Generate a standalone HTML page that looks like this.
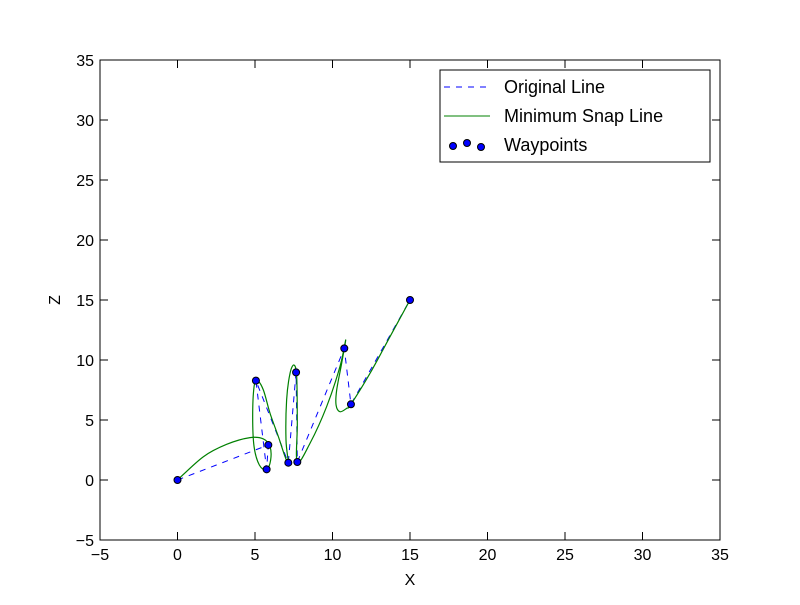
<!DOCTYPE html>
<html><head><meta charset="utf-8"><style>
body{margin:0;background:#fff}
svg text{font-family:"Liberation Sans","DejaVu Sans",sans-serif}
</style></head><body>
<svg id="chart" width="800" height="600" viewBox="0 0 800 600" xmlns="http://www.w3.org/2000/svg">
<rect width="800" height="600" fill="#fff"/>
<g id="ticks"></g>
<g id="series"></g>
<rect x="100" y="60" width="620" height="480" fill="none" stroke="#000" stroke-width="1"/>
<text x="410" y="585" font-size="16" text-anchor="middle">X</text>
<text x="60" y="300" font-size="16" text-anchor="middle" transform="rotate(-90 60 300)">Z</text>
<g>
<rect x="440" y="70" width="270" height="92" fill="#fff" stroke="#000"/>
<g>
<line x1="444" y1="87" x2="490" y2="87" stroke="#0000ff" stroke-dasharray="6,6"/>
<text x="504" y="93" font-size="18">Original Line</text></g>
<g>
<line x1="444" y1="116" x2="490" y2="116" stroke="#008000"/>
<text x="504" y="122" font-size="18">Minimum Snap Line</text></g>
<g>
<circle cx="453" cy="146" r="3.5" fill="#0000ff" stroke="#000"/>
<circle cx="467" cy="143" r="3.5" fill="#0000ff" stroke="#000"/>
<circle cx="481" cy="147" r="3.5" fill="#0000ff" stroke="#000"/>
<text x="504" y="151" font-size="18">Waypoints</text></g>
</g>
</svg>
<script>
const xTicks=[-5,0,5,10,15,20,25,30,35];
const yTicks=[-5,0,5,10,15,20,25,30,35];
const wpX=[0,5.86,5.75,5.06,7.15,7.65,7.73,10.76,11.19,15];
const wpY=[0,2.92,0.89,8.28,1.44,8.97,1.5,10.97,6.31,15];
const snapX=[0,1.67,3.17,4.68,5.54,5.97,6.01,5.75,5.28,4.94,4.85,4.94,5.15,5.54,5.97,6.51,6.94,7.15,7.0,7.04,7.26,7.52,7.69,7.73,7.73,8.55,9.62,10.48,10.85,10.59,10.27,10.23,10.48,10.91,11.19,12.42,13.71,15];
const snapY=[0,1.94,2.97,3.53,3.42,2.78,1.67,0.83,1.25,2.78,5.28,7.78,8.28,7.5,5.56,3.61,1.94,1.44,3.33,6.67,8.89,9.58,8.61,4.72,1.5,3.06,6.11,9.44,11.67,9.72,7.5,6.25,5.69,5.97,6.31,8.89,11.94,15];
const X=v=>100+(v+5)*15.5, Y=v=>540-(v+5)*12;
const NS="http://www.w3.org/2000/svg";
const mk=(t,a)=>{const e=document.createElementNS(NS,t);for(const k in a)e.setAttribute(k,a[k]);return e;};
const tk=document.getElementById('ticks'), se=document.getElementById('series');
xTicks.forEach(v=>{const x=X(v);
 const t=mk('line',{x1:x,x2:x,y1:540,y2:532,stroke:'#000'});tk.appendChild(t);
 const t2=mk('line',{x1:x,x2:x,y1:60,y2:68,stroke:'#000'});tk.appendChild(t2);
 const l=mk('text',{x:x,y:560,'font-size':16,'text-anchor':'middle'});l.textContent=v<0?'\u2212'+(-v):v;tk.appendChild(l);});
yTicks.forEach(v=>{const y=Y(v);
 const t=mk('line',{x1:100,x2:108,y1:y,y2:y,stroke:'#000'});tk.appendChild(t);
 const t2=mk('line',{x1:720,x2:712,y1:y,y2:y,stroke:'#000'});tk.appendChild(t2);
 const l=mk('text',{x:94,y:y+6,'font-size':16,'text-anchor':'end'});l.textContent=v<0?'\u2212'+(-v):v;tk.appendChild(l);});
const orig=mk('polyline',{points:wpX.map((v,i)=>X(v)+','+Y(wpY[i])).join(' '),fill:'none',stroke:'#0000ff','stroke-dasharray':'6,6'});
se.appendChild(orig);
// Catmull-Rom smooth path
const P=snapX.map((v,i)=>[X(v),Y(snapY[i])]);
let d='M'+P[0][0]+','+P[0][1];
for(let i=0;i<P.length-1;i++){const p0=P[Math.max(0,i-1)],p1=P[i],p2=P[i+1],p3=P[Math.min(P.length-1,i+2)];
 d+=' C'+(p1[0]+(p2[0]-p0[0])/6)+','+(p1[1]+(p2[1]-p0[1])/6)+' '+(p2[0]-(p3[0]-p1[0])/6)+','+(p2[1]-(p3[1]-p1[1])/6)+' '+p2[0]+','+p2[1];}
const snap=mk('path',{d:d,fill:'none',stroke:'#008000','stroke-width':1.2});
se.appendChild(snap);
wpX.forEach((v,i)=>{const c=mk('circle',{cx:X(v),cy:Y(wpY[i]),r:3.5,fill:'#0000ff',stroke:'#000'});
 se.appendChild(c);});
</script>
</body></html>
